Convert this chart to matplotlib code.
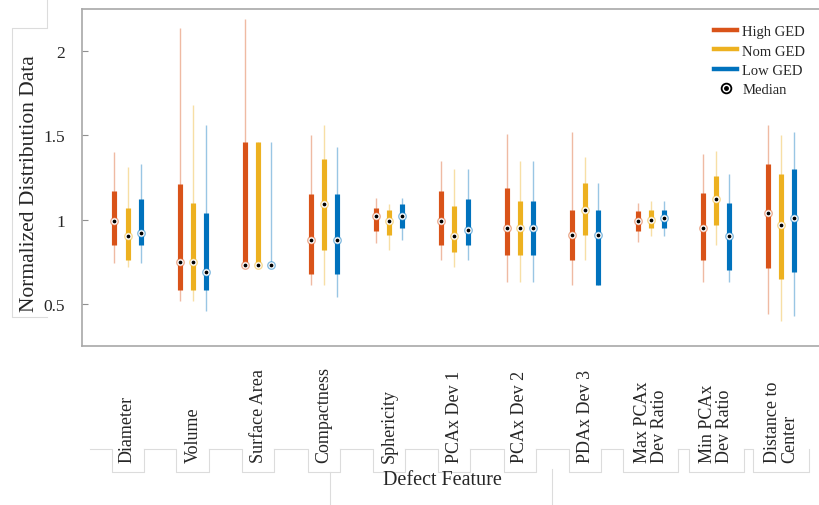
import matplotlib
matplotlib.use('Agg')
import matplotlib.pyplot as plt
from matplotlib.colors import to_rgba
from matplotlib.lines import Line2D
from matplotlib.transforms import blended_transform_factory

plt.rcParams['font.family'] = ['Liberation Serif', 'DejaVu Serif']

categories = ['Diameter', 'Volume', 'Surface Area', 'Compactness', 'Sphericity',
              'PCAx Dev 1', 'PCAx Dev 2', 'PDAx Dev 3', 'Max PCAx\nDev Ratio',
              'Min PCAx\nDev Ratio', 'Distance to\nCenter']
series_names = ['High GED', 'Nom GED', 'Low GED']
series_colors = ['#D95319', '#EDB120', '#0072BD']

# whisker low, 25th pct, median, 75th pct, whisker high
high_lo = [0.74, 0.52, 0.73, 0.61, 0.86, 0.76, 0.63, 0.61, 0.87, 0.63, 0.44]
high_q1 = [0.85, 0.58, 0.73, 0.68, 0.93, 0.85, 0.79, 0.76, 0.93, 0.76, 0.71]
high_med = [0.99, 0.75, 0.73, 0.88, 1.02, 0.99, 0.95, 0.91, 0.99, 0.95, 1.04]
high_q3 = [1.17, 1.21, 1.46, 1.15, 1.07, 1.17, 1.19, 1.06, 1.05, 1.16, 1.33]
high_hi = [1.40, 2.14, 2.19, 1.50, 1.13, 1.35, 1.51, 1.52, 1.10, 1.39, 1.56]

nom_lo = [0.72, 0.52, 0.73, 0.61, 0.82, 0.72, 0.63, 0.76, 0.90, 0.85, 0.40]
nom_q1 = [0.76, 0.58, 0.73, 0.82, 0.91, 0.81, 0.79, 0.91, 0.95, 0.97, 0.65]
nom_med = [0.90, 0.75, 0.73, 1.09, 0.99, 0.90, 0.95, 1.06, 1.00, 1.12, 0.97]
nom_q3 = [1.07, 1.10, 1.46, 1.36, 1.06, 1.08, 1.11, 1.22, 1.06, 1.26, 1.27]
nom_hi = [1.31, 1.68, 1.46, 1.56, 1.09, 1.30, 1.35, 1.37, 1.11, 1.41, 1.50]

low_lo = [0.74, 0.46, 0.73, 0.54, 0.88, 0.76, 0.63, 0.61, 0.90, 0.63, 0.43]
low_q1 = [0.85, 0.58, 0.73, 0.68, 0.95, 0.85, 0.79, 0.61, 0.95, 0.70, 0.69]
low_med = [0.92, 0.69, 0.73, 0.88, 1.02, 0.94, 0.95, 0.91, 1.01, 0.90, 1.01]
low_q3 = [1.12, 1.04, 0.73, 1.15, 1.09, 1.12, 1.11, 1.06, 1.06, 1.10, 1.30]
low_hi = [1.33, 1.56, 1.46, 1.43, 1.13, 1.30, 1.35, 1.22, 1.11, 1.27, 1.52]

series = [
    (high_lo, high_q1, high_med, high_q3, high_hi),
    (nom_lo, nom_q1, nom_med, nom_q3, nom_hi),
    (low_lo, low_q1, low_med, low_q3, low_hi),
]

W, H = 820, 506
fig = plt.figure(figsize=(W / 100, H / 100), dpi=100)


def fx(px):
    return px / W


def fy(py):
    return 1 - py / H


ax = fig.add_axes([fx(82), fy(347), fx(820) - fx(82), fy(10) - fy(347)])

groups = list(range(1, len(categories) + 1))
offsets = [-0.2, 0.0, 0.2]

for (lo, q1, med, q3, hi), off, c in zip(series, offsets, series_colors):
    xs = [g + off for g in groups]
    ax.vlines(xs, lo, hi, colors=[to_rgba(c, 0.4)], linewidth=1.0, zorder=2)
    ax.vlines(xs, q1, q3, colors=c, linewidth=3.7, zorder=3)
    ax.plot(xs, med, 'o', ms=5.4, mfc='white', mec=to_rgba(c, 0.5), mew=0.9,
            ls='none', zorder=4)
    ax.plot(xs, med, 'o', ms=1.7, mfc='black', mec='black', ls='none', zorder=5)

ax.set_xlim(0.304, 11.59)
ax.set_ylim(0.25, 2.25)
ax.set_yticks([0.5, 1, 1.5, 2])
ax.set_yticklabels(['0.5', '1', '1.5', '2'])
ax.set_xticks([])
ax.tick_params(axis='y', direction='in', length=4, width=0.8, color='#909090',
               labelsize=12.5, labelcolor='#262626', pad=12)
for side in ['left', 'top', 'bottom']:
    ax.spines[side].set_color('#a8a8a8')
    ax.spines[side].set_linewidth(1.2)
ax.spines['right'].set_visible(False)

# category labels below the axes
trans = blended_transform_factory(ax.transData, fig.transFigure)
for g, name in zip(groups, categories):
    ax.text(g, fy(463), name, rotation=90, ha='center', va='bottom',
            multialignment='left', fontsize=13, color='#262626',
            linespacing=1.0, transform=trans, clip_on=False)

fig.text(fx(442), fy(481), 'Defect Feature', ha='center', va='center',
         fontsize=14.5, color='#262626')
fig.text(fx(30), fy(184), 'Normalized Distribution Data', rotation=90,
         ha='center', va='center', fontsize=15.5, color='#262626')

# faint text-box outlines around the labels
box_col = '#dcdcdc'
box_w = [32, 33, 32, 32, 32, 32, 32, 32, 55, 55, 56]
prev_r = 90
for g, bw in zip(groups, box_w):
    cx = ax.transData.transform((g, 0))[0]
    l, r = cx - bw / 2, cx + bw / 2
    fig.add_artist(Line2D([fx(prev_r), fx(l), fx(l), fx(r), fx(r)],
                          [fy(450), fy(450), fy(473), fy(473), fy(450)],
                          color=box_col, lw=0.8))
    prev_r = r
fig.add_artist(Line2D([fx(330), fx(330)], [fy(473), fy(506)], color=box_col, lw=0.8))
fig.add_artist(Line2D([fx(552), fx(552)], [fy(470), fy(506)], color=box_col, lw=0.8))
fig.add_artist(Line2D([fx(47), fx(47), fx(12), fx(12), fx(47)],
                      [fy(0), fy(29), fy(29), fy(318), fy(318)],
                      color=box_col, lw=0.8))

# legend
handles = [Line2D([], [], color=c, lw=3.2) for c in series_colors]
med_handle = (Line2D([], [], marker='o', ms=7, mfc='white', mec='black', mew=1.3, ls='none'),
              Line2D([], [], marker='o', ms=2.5, mfc='black', mec='black', ls='none'))
leg = fig.legend(handles + [med_handle], series_names + ['Median'],
                 loc='upper left', bbox_to_anchor=(fx(714), fy(26)),
                 frameon=False, fontsize=10.5, handlelength=1.6,
                 handletextpad=0.35, labelspacing=0.42, borderpad=0,
                 borderaxespad=0)
for t in leg.get_texts():
    t.set_color('#262626')

fig.savefig('out.png', dpi=100)
